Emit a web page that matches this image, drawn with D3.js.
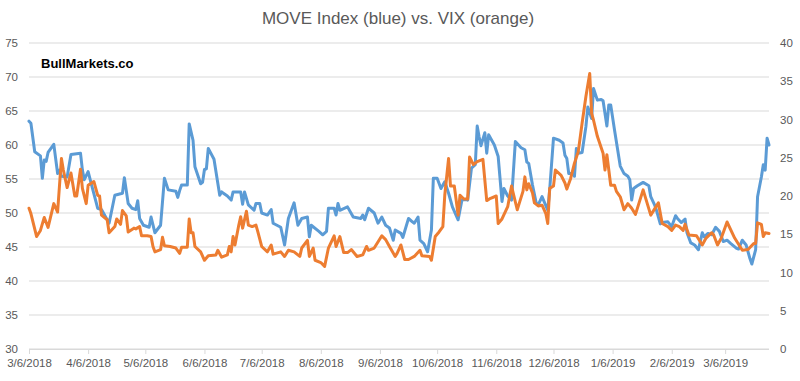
<!DOCTYPE html>
<html>
<head>
<meta charset="utf-8">
<script src="https://cdn.jsdelivr.net/npm/d3@7"></script>
<style>
  body { margin: 0; background: #fff; }
  text { font-family: "Liberation Sans", Arial, sans-serif; }
</style>
</head>
<body>
<div id="chart"></div>
<script>
// MOVE index (left axis)
const moveDates = ["3/6/2018","3/7/2018","3/9/2018","3/12/2018","3/13/2018","3/14/2018","3/15/2018","3/16/2018","3/19/2018","3/21/2018","3/22/2018","3/23/2018","3/26/2018","3/28/2018","4/2/2018","4/3/2018","4/4/2018","4/6/2018","4/8/2018","4/11/2018","4/13/2018","4/17/2018","4/20/2018","4/24/2018","4/25/2018","4/27/2018","4/29/2018","5/1/2018","5/2/2018","5/3/2018","5/5/2018","5/8/2018","5/9/2018","5/11/2018","5/14/2018","5/16/2018","5/18/2018","5/22/2018","5/23/2018","5/24/2018","5/25/2018","5/28/2018","5/29/2018","5/31/2018","6/1/2018","6/4/2018","6/5/2018","6/6/2018","6/7/2018","6/8/2018","6/11/2018","6/14/2018","6/15/2018","6/18/2018","6/20/2018","6/21/2018","6/25/2018","6/26/2018","6/27/2018","6/29/2018","7/2/2018","7/3/2018","7/5/2018","7/6/2018","7/9/2018","7/11/2018","7/12/2018","7/16/2018","7/18/2018","7/20/2018","7/23/2018","7/25/2018","7/27/2018","7/30/2018","7/31/2018","8/1/2018","8/5/2018","8/7/2018","8/9/2018","8/10/2018","8/13/2018","8/14/2018","8/15/2018","8/16/2018","8/20/2018","8/23/2018","8/27/2018","8/28/2018","8/29/2018","8/31/2018","9/3/2018","9/5/2018","9/7/2018","9/9/2018","9/11/2018","9/13/2018","9/14/2018","9/17/2018","9/18/2018","9/21/2018","9/23/2018","9/24/2018","9/26/2018","9/27/2018","9/29/2018","10/1/2018","10/3/2018","10/4/2018","10/6/2018","10/8/2018","10/10/2018","10/12/2018","10/14/2018","10/17/2018","10/19/2018","10/21/2018","10/22/2018","10/24/2018","10/26/2018","10/27/2018","10/28/2018","10/29/2018","10/31/2018","11/1/2018","11/2/2018","11/5/2018","11/7/2018","11/9/2018","11/10/2018","11/12/2018","11/14/2018","11/16/2018","11/19/2018","11/21/2018","11/22/2018","11/23/2018","11/25/2018","11/27/2018","11/28/2018","11/30/2018","12/3/2018","12/4/2018","12/6/2018","12/9/2018","12/11/2018","12/12/2018","12/13/2018","12/14/2018","12/16/2018","12/17/2018","12/18/2018","12/19/2018","12/21/2018","12/23/2018","12/24/2018","12/26/2018","12/27/2018","12/29/2018","12/31/2018","1/1/2019","1/3/2019","1/4/2019","1/5/2019","1/7/2019","1/10/2019","1/12/2019","1/14/2019","1/15/2019","1/16/2019","1/17/2019","1/19/2019","1/22/2019","1/25/2019","1/26/2019","1/28/2019","1/29/2019","1/31/2019","2/1/2019","2/4/2019","2/6/2019","2/8/2019","2/9/2019","2/11/2019","2/13/2019","2/14/2019","2/16/2019","2/18/2019","2/20/2019","2/22/2019","2/23/2019","2/25/2019","2/27/2019","3/1/2019","3/3/2019","3/5/2019","3/7/2019","3/9/2019","3/12/2019","3/13/2019","3/15/2019","3/17/2019","3/19/2019","3/20/2019","3/22/2019","3/23/2019","3/25/2019","3/26/2019","3/27/2019","3/28/2019","3/29/2019"];
const moveValues = [63.5,63.2,59.0,58.4,55.1,57.8,57.6,58.9,60.1,55.8,56.3,55.4,55.3,58.6,58.8,56.3,54.9,56.1,53.9,50.7,50.5,48.5,52.6,52.9,55.2,51.4,50.7,50.5,51.8,49.2,48.2,47.9,49.4,47.1,48.2,55.1,53.4,53.2,52.3,53.3,54.1,54.1,63.1,60.7,56.8,54.3,54.5,56.4,56.5,59.5,57.9,52.6,53.1,52.5,51.9,53.1,53.1,51.3,53.1,51.2,50.4,51.4,51.4,50.0,49.7,50.5,48.5,47.9,45.3,49.2,51.5,48.2,49.2,49.4,46.5,48.2,47.3,46.8,47.3,50.7,50.7,49.7,51.4,50.4,50.9,49.4,49.2,49.7,49.0,50.7,50.0,48.5,49.4,48.2,47.8,46.0,47.5,47.0,46.4,49.2,48.7,48.5,49.4,46.0,45.5,44.3,47.5,55.1,55.1,53.6,54.6,52.9,50.9,49.0,51.9,52.0,51.9,56.6,57.1,62.8,61.2,59.9,61.8,58.8,61.5,60.0,58.3,51.7,53.6,52.5,51.9,60.5,59.6,59.3,57.5,57.3,54.1,51.4,51.2,52.4,50.4,53.4,61.0,60.7,60.3,58.5,58.0,55.8,55.8,55.4,59.5,58.8,58.9,62.7,65.6,63.9,68.3,66.6,66.7,66.5,62.8,65.9,65.9,62.2,56.9,55.8,55.4,54.9,51.9,53.6,54.0,54.5,54.0,52.4,51.2,50.4,48.4,48.6,48.7,48.0,49.6,49.2,48.6,49.1,47.1,45.6,45.3,44.6,47.1,46.5,47.0,46.8,47.9,47.3,45.8,46.0,45.5,44.8,44.7,46.0,45.3,43.3,42.5,44.6,52.4,55.3,57.1,56.3,61.0,60.0];

// VIX (right axis)
const vixDates = ["3/6/2018","3/7/2018","3/10/2018","3/12/2018","3/14/2018","3/16/2018","3/19/2018","3/21/2018","3/23/2018","3/24/2018","3/26/2018","3/28/2018","3/30/2018","3/31/2018","4/2/2018","4/3/2018","4/5/2018","4/6/2018","4/9/2018","4/11/2018","4/12/2018","4/13/2018","4/16/2018","4/17/2018","4/20/2018","4/21/2018","4/23/2018","4/24/2018","4/26/2018","4/27/2018","4/30/2018","5/1/2018","5/3/2018","5/4/2018","5/7/2018","5/9/2018","5/10/2018","5/11/2018","5/14/2018","5/15/2018","5/16/2018","5/19/2018","5/22/2018","5/24/2018","5/25/2018","5/28/2018","5/29/2018","5/30/2018","5/31/2018","6/1/2018","6/4/2018","6/6/2018","6/8/2018","6/12/2018","6/13/2018","6/15/2018","6/18/2018","6/19/2018","6/20/2018","6/21/2018","6/22/2018","6/24/2018","6/25/2018","6/26/2018","6/28/2018","6/29/2018","7/1/2018","7/3/2018","7/4/2018","7/6/2018","7/9/2018","7/11/2018","7/12/2018","7/16/2018","7/18/2018","7/20/2018","7/23/2018","7/26/2018","7/27/2018","7/30/2018","7/31/2018","8/2/2018","8/3/2018","8/6/2018","8/8/2018","8/10/2018","8/13/2018","8/14/2018","8/16/2018","8/18/2018","8/20/2018","8/22/2018","8/25/2018","8/28/2018","8/30/2018","8/31/2018","9/3/2018","9/7/2018","9/9/2018","9/11/2018","9/14/2018","9/15/2018","9/17/2018","9/19/2018","9/21/2018","9/24/2018","9/27/2018","9/28/2018","10/2/2018","10/3/2018","10/5/2018","10/7/2018","10/9/2018","10/10/2018","10/12/2018","10/13/2018","10/15/2018","10/17/2018","10/18/2018","10/20/2018","10/22/2018","10/23/2018","10/25/2018","10/27/2018","10/30/2018","11/1/2018","11/3/2018","11/6/2018","11/7/2018","11/9/2018","11/12/2018","11/14/2018","11/17/2018","11/18/2018","11/20/2018","11/21/2018","11/22/2018","11/23/2018","11/25/2018","11/26/2018","11/28/2018","11/30/2018","12/2/2018","12/3/2018","12/4/2018","12/6/2018","12/7/2018","12/10/2018","12/12/2018","12/13/2018","12/15/2018","12/17/2018","12/19/2018","12/21/2018","12/23/2018","12/25/2018","12/26/2018","12/27/2018","12/29/2018","1/1/2019","1/2/2019","1/3/2019","1/5/2019","1/7/2019","1/8/2019","1/10/2019","1/12/2019","1/14/2019","1/16/2019","1/18/2019","1/22/2019","1/26/2019","1/30/2019","2/1/2019","2/4/2019","2/6/2019","2/8/2019","2/10/2019","2/12/2019","2/13/2019","2/15/2019","2/19/2019","2/22/2019","2/24/2019","2/27/2019","2/28/2019","3/2/2019","3/4/2019","3/7/2019","3/11/2019","3/15/2019","3/18/2019","3/21/2019","3/22/2019","3/23/2019","3/25/2019","3/26/2019","3/27/2019","3/29/2019"];
const vixValues = [18.4,17.7,14.7,15.5,17.2,15.9,19.0,17.9,24.9,23.4,21.1,23.0,20.0,20.0,23.5,21.0,19.0,21.4,21.9,20.1,20.0,17.5,16.9,15.2,16.0,17.0,16.3,18.1,17.4,15.3,15.8,15.7,16.0,14.8,14.8,14.7,13.4,12.7,13.0,14.6,13.5,13.4,13.2,12.5,13.3,13.3,17.0,15.2,15.2,13.4,12.7,11.6,12.2,12.3,12.9,12.0,12.3,13.4,12.7,14.7,13.6,16.2,17.3,15.8,18.0,16.2,16.0,16.2,15.3,13.4,12.7,13.6,12.4,12.7,12.1,12.9,12.7,12.1,13.2,14.2,12.1,13.2,11.6,11.3,10.8,13.2,14.8,13.4,14.7,12.6,12.6,13.0,12.1,12.3,13.4,12.9,13.2,14.8,14.3,13.4,12.1,12.5,13.6,11.7,11.7,12.1,12.9,12.2,12.1,11.6,14.7,15.3,16.0,20.1,24.9,21.3,21.3,17.5,20.1,19.6,19.6,25.1,24.1,24.5,24.8,19.4,19.7,20.0,16.4,17.0,18.6,21.3,18.2,19.0,20.6,22.5,20.8,21.6,20.4,19.1,18.7,18.8,17.7,16.4,21.0,21.3,23.4,22.7,21.7,20.9,22.3,24.3,25.8,29.5,33.0,36.0,30.8,29.9,27.8,25.6,23.4,25.4,21.4,21.4,20.6,19.9,18.2,19.0,18.4,17.6,20.8,17.5,19.1,16.4,16.0,15.5,16.2,16.0,15.5,16.3,14.9,14.8,13.6,14.5,15.2,14.9,13.6,14.5,16.6,14.5,12.9,13.0,13.8,13.8,16.5,16.3,14.7,15.2,15.1];

const leftTicks = [30, 35, 40, 45, 50, 55, 60, 65, 70, 75];
const rightTicks = [0, 5, 10, 15, 20, 25, 30, 35, 40];
const xTickLabels = ["3/6/2018","4/6/2018","5/6/2018","6/6/2018","7/6/2018","8/6/2018","9/6/2018","10/6/2018","11/6/2018","12/6/2018","1/6/2019","2/6/2019","3/6/2019"];

const W = 800, H = 381;
const margin = { top: 43, right: 31, bottom: 32, left: 29 };
const width = W - margin.left - margin.right;
const height = H - margin.top - margin.bottom;

const parse = d3.timeParse("%m/%d/%Y");
const move = moveDates.map((d, i) => ({ date: parse(d), value: moveValues[i] }));
const vix = vixDates.map((d, i) => ({ date: parse(d), value: vixValues[i] }));

const x = d3.scaleTime()
    .domain([move[0].date, move[move.length - 1].date])
    .range([0, width]);
const yLeft = d3.scaleLinear().domain([30, 75]).range([height, 0]);
const yRight = d3.scaleLinear().domain([0, 40]).range([height, 0]);

const svg = d3.select("#chart")
    .append("svg")
    .attr("width", W)
    .attr("height", H);

svg.append("text")
    .attr("x", 398)
    .attr("y", 24)
    .attr("text-anchor", "middle")
    .attr("font-size", 17)
    .attr("fill", "#595959")
    .text("MOVE Index (blue) vs. VIX (orange)");

const g = svg.append("g")
    .attr("transform", `translate(${margin.left},${margin.top})`);

// gridlines
g.append("g")
    .selectAll("line")
    .data(leftTicks)
    .join("line")
    .attr("x1", 0)
    .attr("x2", width)
    .attr("y1", d => yLeft(d))
    .attr("y2", d => yLeft(d))
    .attr("stroke", "#d9d9d9")
    .attr("stroke-width", 1);

const yAxisL = d3.axisLeft(yLeft).tickValues(leftTicks).tickSize(0).tickPadding(11);
g.append("g")
    .attr("class", "y-axis")
    .call(yAxisL)
    .call(s => s.select(".domain").remove());

const yAxisR = d3.axisRight(yRight).tickValues(rightTicks).tickSize(0).tickPadding(11);
g.append("g")
    .attr("class", "y-axis-right")
    .attr("transform", `translate(${width},0)`)
    .call(yAxisR)
    .call(s => s.select(".domain").remove());

const xAxis = d3.axisBottom(x)
    .tickValues(xTickLabels.map(parse))
    .tickFormat(d3.timeFormat("%-m/%-d/%Y"))
    .tickSize(5)
    .tickPadding(5);
g.append("g")
    .attr("class", "x-axis")
    .attr("transform", `translate(0,${height})`)
    .call(xAxis)
    .call(s => s.select(".domain").attr("stroke", "#d9d9d9").attr("d", `M0,0.5H${width}`))
    .call(s => s.selectAll(".tick line").attr("stroke", "#d9d9d9"));

svg.selectAll(".y-axis text, .y-axis-right text, .x-axis text")
    .attr("font-family", "Liberation Sans, Arial, sans-serif")
    .attr("font-size", 11.5)
    .attr("fill", "#595959");

const lineL = d3.line().x(d => x(d.date)).y(d => yLeft(d.value));
const lineR = d3.line().x(d => x(d.date)).y(d => yRight(d.value));

g.append("path")
    .datum(move)
    .attr("fill", "none")
    .attr("stroke", "#5b9bd5")
    .attr("stroke-width", 3)
    .attr("stroke-linejoin", "round")
    .attr("stroke-linecap", "round")
    .attr("d", lineL);

g.append("path")
    .datum(vix)
    .attr("fill", "none")
    .attr("stroke", "#ed7d31")
    .attr("stroke-width", 3)
    .attr("stroke-linejoin", "round")
    .attr("stroke-linecap", "round")
    .attr("d", lineR);

svg.append("text")
    .attr("x", 41)
    .attr("y", 68)
    .attr("font-size", 13)
    .attr("font-weight", "bold")
    .attr("fill", "#000")
    .text("BullMarkets.co");
</script>
</body>
</html>
